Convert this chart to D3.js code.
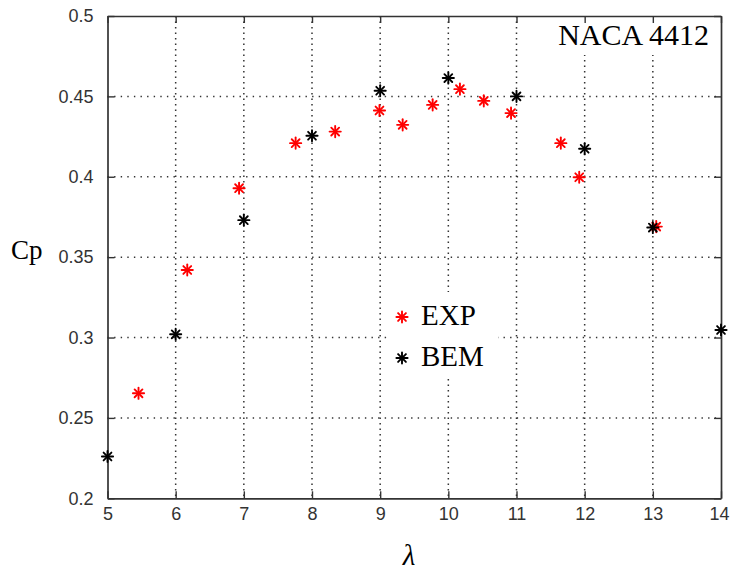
<!DOCTYPE html>
<html>
<head>
<meta charset="utf-8">
<script src="https://cdn.jsdelivr.net/npm/d3@7"></script>
<style>
  html, body { margin: 0; padding: 0; background: #fff; }
  svg { display: block; }
</style>
</head>
<body>
<div id="chart"></div>
<script>
// ---- data ----
const xTicks = [5, 6, 7, 8, 9, 10, 11, 12, 13, 14];
const yTicks = [0.2, 0.25, 0.3, 0.35, 0.4, 0.45, 0.5];
const yTickLabels = ["0.2", "0.25", "0.3", "0.35", "0.4", "0.45", "0.5"];

const bemLambda = [5, 6, 7, 8, 9, 10, 11, 12, 13, 14];
const bemCp     = [0.226, 0.302, 0.373, 0.4255, 0.4535, 0.4614, 0.450, 0.4174, 0.3684, 0.3047];

const expLambda = [5.455, 6.17, 6.93, 7.76, 8.34, 8.99, 9.33, 9.77, 10.17, 10.52, 10.92, 11.65, 11.92, 13.05];
const expCp     = [0.2653, 0.342, 0.3929, 0.4209, 0.4281, 0.4412, 0.4323, 0.4447, 0.4545, 0.4472, 0.4396, 0.4209, 0.3997, 0.369];

const legendLabels = ["EXP", "BEM"];
const legendColors = ["#ff0000", "#000000"];
const titleText = "NACA 4412";

// ---- layout ----
const W = 730, H = 572;
const L = 107.5, R = 721, T = 16, B = 498.3;

const svg = d3.select("#chart").append("svg").attr("width", W).attr("height", H);

const x = d3.scaleLinear().domain([5, 14]).range([L, R]);
const y = d3.scaleLinear().domain([0.2, 0.5]).range([B, T]);

// grid
const grid = svg.append("g");
grid.selectAll("line.vg").data(xTicks.slice(1, -1)).join("line")
  .attr("x1", d => x(d)).attr("x2", d => x(d)).attr("y1", T).attr("y2", B)
  .attr("stroke", "#333").attr("stroke-width", 1.5).attr("stroke-dasharray", "1.4,4.1");
grid.selectAll("line.hg").data(yTicks.slice(1, -1)).join("line")
  .attr("x1", L).attr("x2", R).attr("y1", d => y(d)).attr("y2", d => y(d))
  .attr("stroke", "#333").attr("stroke-width", 1.5).attr("stroke-dasharray", "1.4,5.2");

// white boxes covering grid (title and legend)
svg.append("rect").attr("x", 548).attr("y", T + 1).attr("width", R - 549).attr("height", 38).attr("fill", "#fff");
svg.append("rect").attr("x", 388).attr("y", 292).attr("width", 110).attr("height", 86).attr("fill", "#fff");

// axes
const axisColor = "#333";
const tickFont = "'Liberation Sans', Arial, sans-serif";
const xb = svg.append("g").attr("transform", `translate(0,${B})`)
  .call(d3.axisBottom(x).tickValues(xTicks).tickSizeInner(-7).tickSizeOuter(0).tickPadding(12).tickFormat(d3.format("d")));
const xt = svg.append("g").attr("transform", `translate(0,${T})`)
  .call(d3.axisTop(x).tickValues(xTicks).tickSizeInner(-7).tickSizeOuter(0).tickFormat(""));
const yl = svg.append("g").attr("transform", `translate(${L},0)`)
  .call(d3.axisLeft(y).tickValues(yTicks).tickSizeInner(-7).tickSizeOuter(0).tickPadding(14).tickFormat((d, i) => yTickLabels[i]));
const yr = svg.append("g").attr("transform", `translate(${R},0)`)
  .call(d3.axisRight(y).tickValues(yTicks).tickSizeInner(-7).tickSizeOuter(0).tickFormat(""));

[xb, xt, yl, yr].forEach(g => {
  g.select(".domain").attr("stroke", axisColor).attr("stroke-width", 1.7);
  g.selectAll(".tick line").attr("stroke", axisColor).attr("stroke-width", 1.4);
  g.selectAll(".tick text").attr("fill", "#333").style("font-family", tickFont).style("font-size", "18px");
});
xb.selectAll(".tick text").attr("dy", "0.71em").attr("y", 9);
// keep the last x label inside the window
xb.selectAll(".tick text").filter(d => d === 14).attr("text-anchor", "end").attr("x", 729 - x(14));

// markers (MATLAB '*')
function star(g, cx, cy, color) {
  const s = 5.6, d = 3.9;
  const segs = [[-s,0,s,0],[0,-s,0,s],[-d,-d,d,d],[-d,d,d,-d]];
  segs.forEach(p => g.append("line")
    .attr("x1", cx + p[0]).attr("y1", cy + p[1]).attr("x2", cx + p[2]).attr("y2", cy + p[3])
    .attr("stroke", color).attr("stroke-width", 1.9).attr("stroke-linecap", "round"));
}
const marks = svg.append("g");
expLambda.forEach((v, i) => star(marks, x(v), y(expCp[i]), legendColors[0]));
bemLambda.forEach((v, i) => star(marks, x(v), y(bemCp[i]), legendColors[1]));

// legend
const serif = "'Liberation Serif', 'Times New Roman', serif";
const lg = svg.append("g");
const legY = [317, 358];
legendLabels.forEach((lab, i) => {
  star(lg, 402, legY[i], legendColors[i]);
  lg.append("text").attr("x", 421).attr("y", legY[i] + 8)
    .style("font-family", serif).style("font-size", "29px").attr("fill", "#000").text(lab);
});

// title
svg.append("text").attr("x", 709).attr("y", 45).attr("text-anchor", "end")
  .style("font-family", serif).style("font-size", "30px").attr("fill", "#000").text(titleText);

// axis labels
svg.append("text").attr("x", 11).attr("y", 259)
  .style("font-family", serif).style("font-size", "27px").attr("fill", "#000").text("Cp");
svg.append("text").attr("x", 409).attr("y", 565).attr("text-anchor", "middle")
  .style("font-family", serif).style("font-size", "29px").style("font-style", "italic").attr("fill", "#000").text("λ");
</script>
</body>
</html>
